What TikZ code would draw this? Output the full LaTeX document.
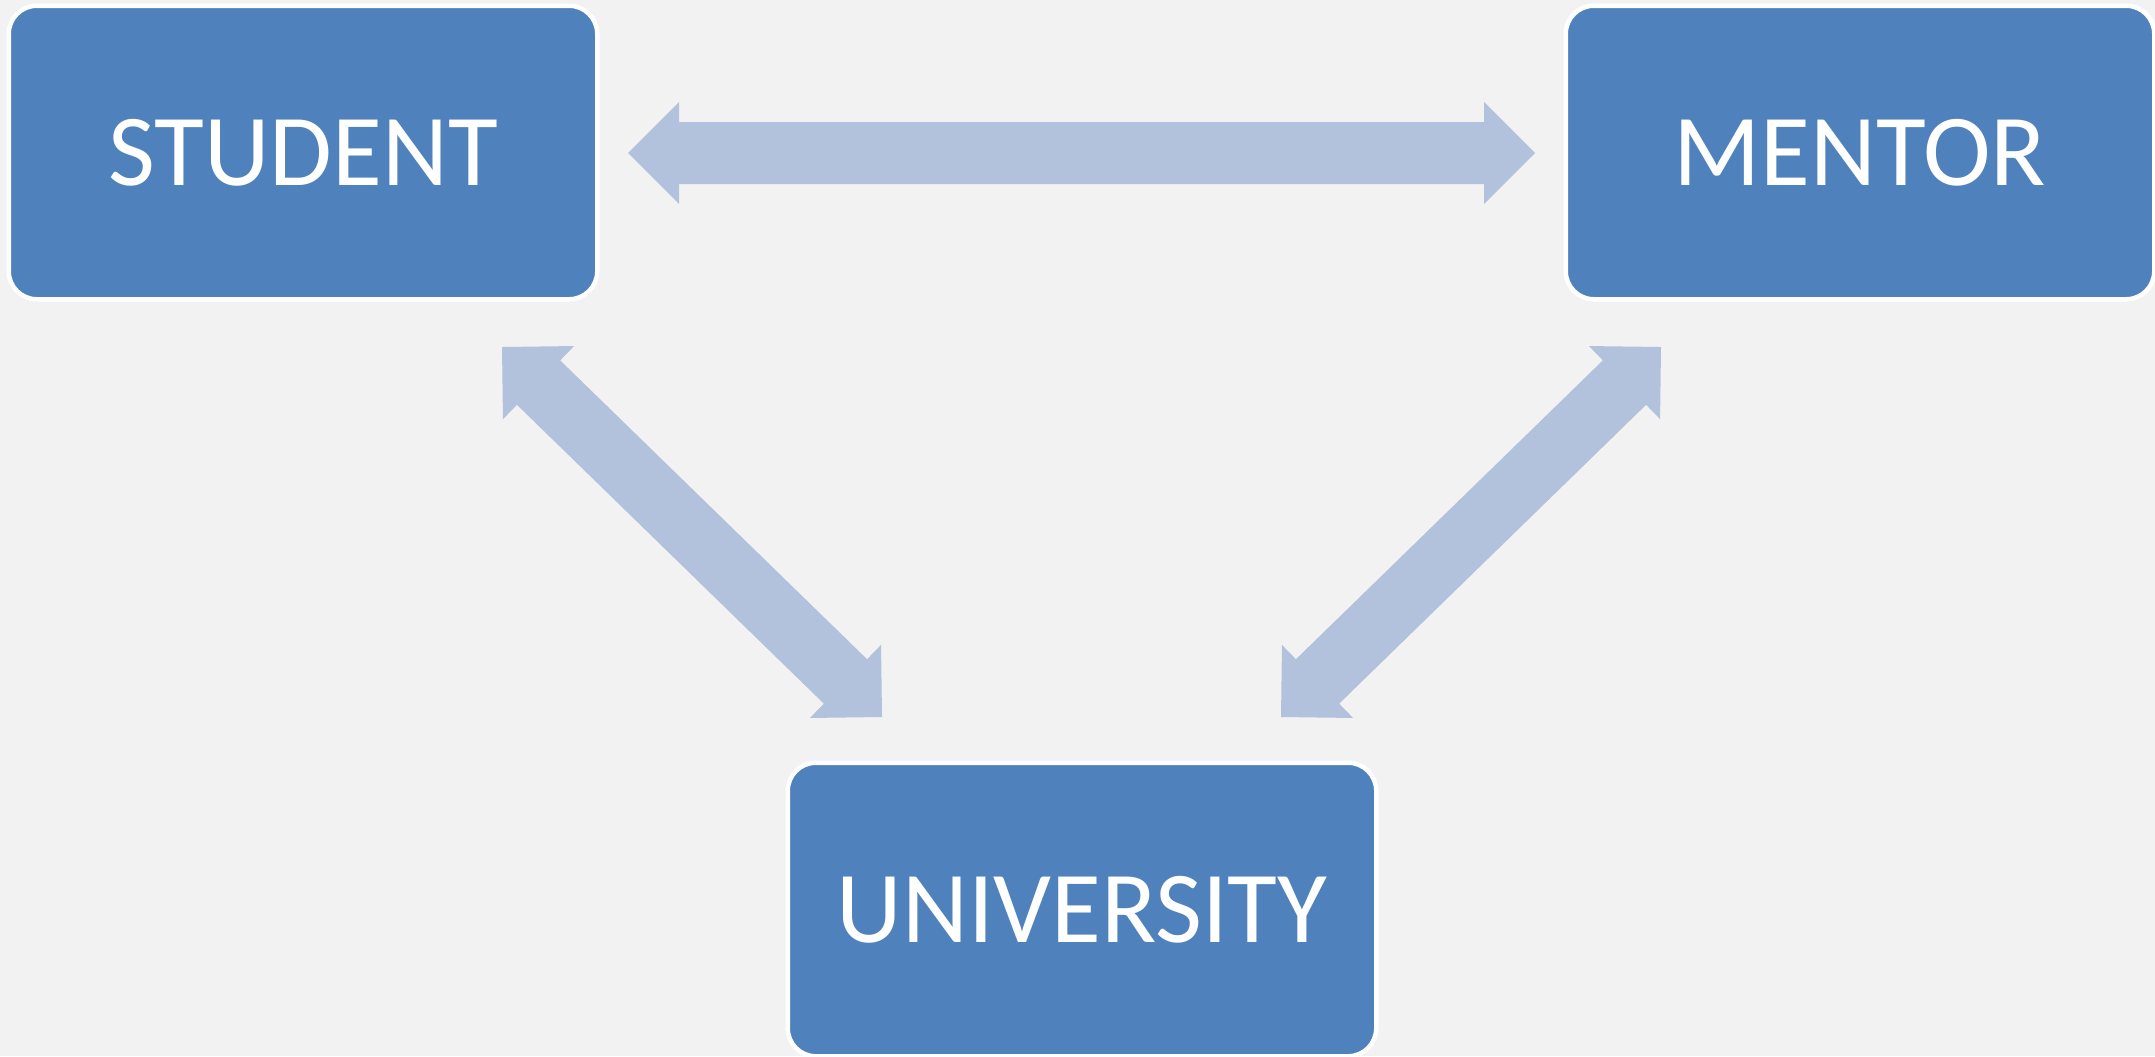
\documentclass[tikz,border=0pt]{standalone}
\usepackage{fontspec}
\setmainfont{Carlito}
\usetikzlibrary{calc}
\definecolor{bgcol}{HTML}{F2F2F2}
\definecolor{boxblue}{HTML}{4F81BD}
\definecolor{arrowblue}{HTML}{B3C2DC}
\newcommand\blockdblarrow[2]{%
  \fill[arrowblue] (#1)
    -- ($(#1)!25.5pt!(#2)!25.5pt!90:(#2)$)
    -- ($(#1)!25.5pt!(#2)!15.5pt!90:(#2)$)
    -- ($(#2)!25.5pt!(#1)!15.5pt!-90:(#1)$)
    -- ($(#2)!25.5pt!(#1)!25.5pt!-90:(#1)$)
    -- (#2)
    -- ($(#2)!25.5pt!(#1)!25.5pt!90:(#1)$)
    -- ($(#2)!25.5pt!(#1)!15.5pt!90:(#1)$)
    -- ($(#1)!25.5pt!(#2)!15.5pt!-90:(#2)$)
    -- ($(#1)!25.5pt!(#2)!25.5pt!-90:(#2)$)
    -- cycle;}
\begin{document}
\begin{tikzpicture}[x=0.5pt,y=-0.5pt,
  box/.style={draw=white, line width=2.25pt, fill=boxblue, rounded corners=14pt,
    minimum width=294.25pt, minimum height=146.75pt, inner sep=0pt,
    text=white, font=\fontsize{51}{60}\selectfont}]
  \fill[bgcol] (0,0) rectangle (2155,1056);
  \useasboundingbox (0,0) rectangle (2155,1056);

  \node[box] (student) at (303,152.5) {STUDENT};
  \node[box] (mentor) at (1860,152.5) {MENTOR};
  \node[box] (university) at (1082,909.5) {UNIVERSITY};

  \coordinate (sA) at (628,153);
  \coordinate (mA) at (1535,153);
  \coordinate (sU) at (502,347);
  \coordinate (uS) at (882,717);
  \coordinate (mU) at (1661,347);
  \coordinate (uM) at (1281,717);

  \blockdblarrow{sA}{mA}
  \blockdblarrow{sU}{uS}
  \blockdblarrow{mU}{uM}
\end{tikzpicture}
\end{document}
